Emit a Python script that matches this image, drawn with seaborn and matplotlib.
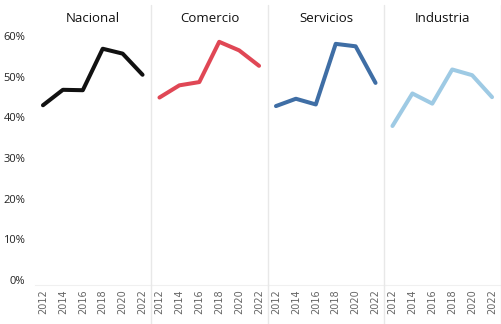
import matplotlib
matplotlib.use("Agg")
import matplotlib.pyplot as plt
import seaborn as sns
import pandas as pd
from matplotlib.lines import Line2D
from matplotlib.ticker import PercentFormatter

sns.set_style("white")
plt.rcParams["font.family"] = ["Open Sans", "DejaVu Sans"]

years = [2012, 2014, 2016, 2018, 2020, 2022]
sectors = ["Nacional", "Comercio", "Servicios", "Industria"]
nacional = [0.430, 0.468, 0.467, 0.569, 0.557, 0.505]
comercio = [0.449, 0.479, 0.487, 0.586, 0.565, 0.527]
servicios = [0.428, 0.446, 0.432, 0.581, 0.575, 0.485]
industria = [0.379, 0.459, 0.434, 0.518, 0.504, 0.450]
colors = ["#111111", "#e04755", "#3f6ea5", "#9ecae4"]
y_ticks = [0, 0.1, 0.2, 0.3, 0.4, 0.5, 0.6]

series = [nacional, comercio, servicios, industria]
df = pd.DataFrame(
    [(s, y, v) for s, vals in zip(sectors, series) for y, v in zip(years, vals)],
    columns=["sector", "year", "value"],
)

fig = plt.figure(figsize=(5.02, 3.24), dpi=100)
left, width = 35 / 502, 116.5 / 502
bottom, height = 1 - 285 / 324, 257 / 324

for i, (name, col) in enumerate(zip(sectors, colors)):
    ax = fig.add_axes([left + i * width, bottom, width, height])
    sub = df[df["sector"] == name]
    sns.lineplot(data=sub, x="year", y="value", color=col, linewidth=2.9,
                 ax=ax, solid_capstyle="round", solid_joinstyle="round")
    ax.set_xlim(2011.2, 2022.9)
    ax.set_ylim(-0.012, 0.62)
    ax.set_xticks(years)
    ax.set_xticklabels([str(y) for y in years], rotation=90, fontsize=7,
                       color="#666666", family=["DejaVu Sans"])
    ax.set_yticks(y_ticks)
    ax.yaxis.set_major_formatter(PercentFormatter(1.0, decimals=0))
    if i == 0:
        ax.tick_params(axis="y", labelsize=8, labelcolor="#222222", length=0, pad=7)
    else:
        ax.tick_params(axis="y", labelleft=False, length=0)
    ax.tick_params(axis="x", length=0, pad=3)
    ax.set_xlabel("")
    ax.set_ylabel("")
    ax.set_title(name, fontsize=9.5, color="#111111", pad=4)
    for side in ["top", "left", "right"]:
        ax.spines[side].set_visible(False)
    ax.spines["bottom"].set_color("#f0f0f0")
    ax.spines["bottom"].set_linewidth(0.8)
    ax.patch.set_alpha(0)

# faint panel separators running the full height
for i in range(1, 5):
    x = left + i * width
    fig.add_artist(Line2D([x, x], [0.0, 0.985], transform=fig.transFigure,
                          color="#e8e8e8", linewidth=1.0))

fig.savefig("out.png", dpi=100, facecolor="white")
